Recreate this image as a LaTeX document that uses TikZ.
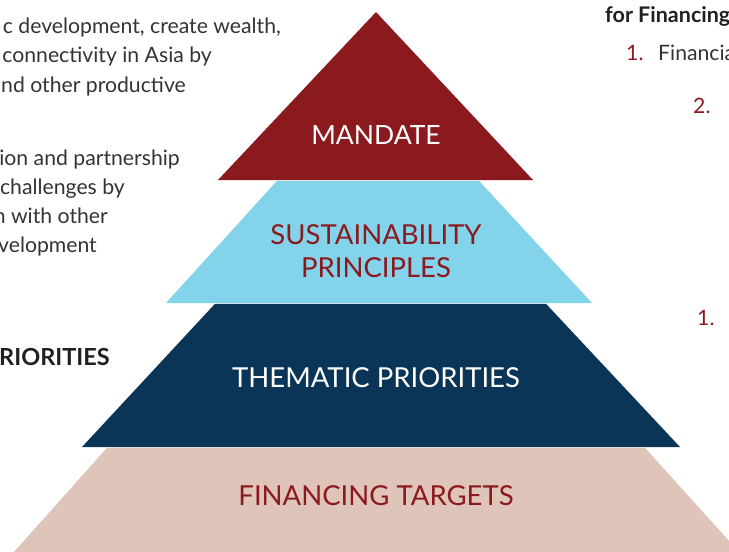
\documentclass[tikz,border=0pt]{standalone}
\usepackage{fontspec}
\setmainfont{Lato}
\definecolor{mandred}{HTML}{8B1A1F}
\definecolor{skyblue}{HTML}{83D3EA}
\definecolor{navy}{HTML}{0B3556}
\definecolor{pinkish}{HTML}{DFC4B9}
\definecolor{bodygray}{HTML}{333333}
\definecolor{headblack}{HTML}{231F20}
\tikzset{
  lbl/.style={anchor=base, inner sep=0pt, font=\fontsize{27.5}{32}\selectfont},
  bodyL/.style={anchor=base east, inner sep=0pt, text=bodygray, font=\fontsize{21.2}{25}\selectfont},
  bodyR/.style={anchor=base west, inner sep=0pt, text=bodygray, font=\fontsize{21.2}{25}\selectfont},
  numR/.style={anchor=base west, inner sep=0pt, text=mandred, font=\fontsize{21.2}{25}\selectfont},
  headL/.style={anchor=base east, inner sep=0pt, text=headblack, font=\fontsize{23.5}{27}\selectfont\bfseries},
  headR/.style={anchor=base west, inner sep=0pt, text=headblack, font=\fontsize{21.5}{25}\selectfont\bfseries},
}
\begin{document}
\begin{tikzpicture}[x=1pt,y=-1pt]
\useasboundingbox (0,0) rectangle (729,552);
\clip (0,0) rectangle (729,552);
% pyramid layers
\fill[mandred] (376,12) -- (533,180) -- (218,180) -- cycle;
\fill[skyblue] (277,180.8) -- (479,180.8) -- (592,303) -- (166,303) -- cycle;
\fill[navy] (215,303.8) -- (546,303.8) -- (680,447) -- (82,447) -- cycle;
\fill[pinkish] (107,447.8) -- (645,447.8) -- (740,553) -- (13,553) -- cycle;
% labels
\node[lbl, text=white, font=\fontsize{26.5}{31}\selectfont] (mandate) at (376,144) {MANDATE};
\node[lbl, text=mandred] (sust) at (376,244) {SUSTAINABILITY};
\node[lbl, text=mandred] (princ) at (376,277) {PRINCIPLES};
\node[lbl, text=white] (them) at (376,387) {THEMATIC PRIORITIES};
\node[lbl, text=mandred] (fin) at (376,505) {FINANCING TARGETS};
% left text
\node[bodyL] (l1) at (281,33) {c development, create wealth,};
\node[bodyL] (l2) at (212,62.5) {connectivity in Asia by};
\node[bodyL] (l3) at (186,92) {nd other productive};
\node[bodyL] (l4) at (180,165) {ion and partnership};
\node[bodyL] (l5) at (125,194) {challenges by};
\node[bodyL] (l6) at (108,223) {n with other};
\node[bodyL] (l7) at (97,252) {velopment};
\node[headL] (l8) at (110,365) {RIORITIES};
% right text
\node[headR] (r1) at (605,22) {for Financing};
\node[numR] (r2n) at (626,60) {1.};
\node[bodyR] (r2) at (658,60) {Financia};
\node[numR] (r3n) at (693,113) {2.};
\node[numR] (r4n) at (697,325) {1.};
\end{tikzpicture}
\end{document}
